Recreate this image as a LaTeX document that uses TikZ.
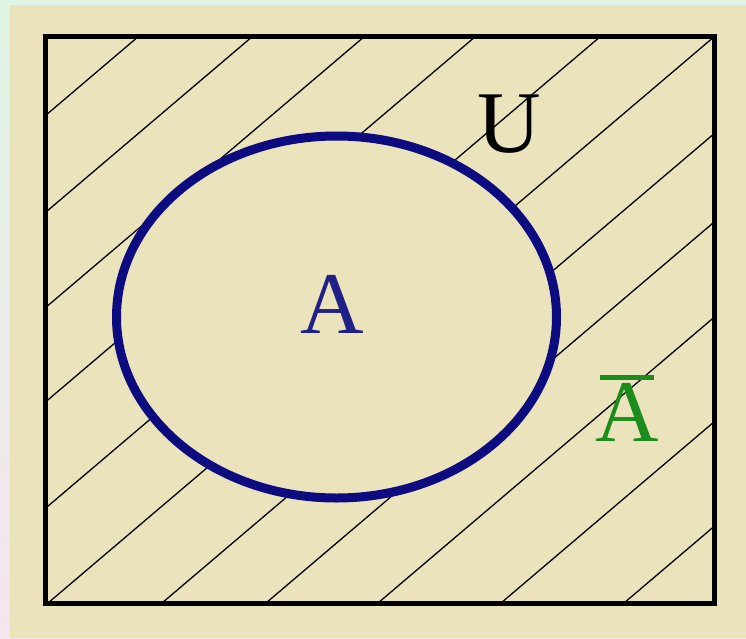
\documentclass[tikz,border=0pt]{standalone}
\usepackage{fontspec}
\setmainfont{Liberation Serif}
\definecolor{beige}{RGB}{235,227,188}
\definecolor{mint}{RGB}{222,244,228}
\definecolor{pinkish}{RGB}{246,228,238}
\definecolor{navy}{RGB}{12,12,128}
\definecolor{textnavy}{RGB}{32,32,135}
\definecolor{agreen}{RGB}{28,140,28}
\tikzset{
  lbl/.style={inner sep=0pt, anchor=base, font=\fontsize{88}{88}\selectfont},
  hatch/.style={black, line width=1.3pt},
  frame/.style={black, line width=5pt},
  setA/.style={navy, line width=9pt}
}
\begin{document}
\begin{tikzpicture}[x=1pt,y=-1pt]
\useasboundingbox (0,0) rectangle (746,638);
\shade[top color=mint, bottom color=pinkish] (0,0) rectangle (746,638);
\fill[beige] (10,5) rectangle (746,638);
\begin{scope}[even odd rule]
  \clip (45,36) rectangle (714,603) (336.5,317) ellipse [x radius=220, y radius=181];
  \foreach \xb in {-528,-414,-302,-191,-66,48,162,266,378,501,624}
    \draw[hatch] (\xb-50,645.5) -- (\xb+717,-6.5);
\end{scope}
\draw[frame] (45,36) rectangle (714,603);
\draw[setA] (336.5,317) ellipse [x radius=220, y radius=181];
\node[lbl, text=black] (U) at (509,152) {U};
\node[lbl, text=textnavy] (A) at (332,333) {A};
\node[lbl, text=agreen] (Abar) at (627,441) {\ooalign{\hidewidth\rule[0.69em]{0.62em}{0.06em}\hidewidth\cr A}};
\end{tikzpicture}
\end{document}
